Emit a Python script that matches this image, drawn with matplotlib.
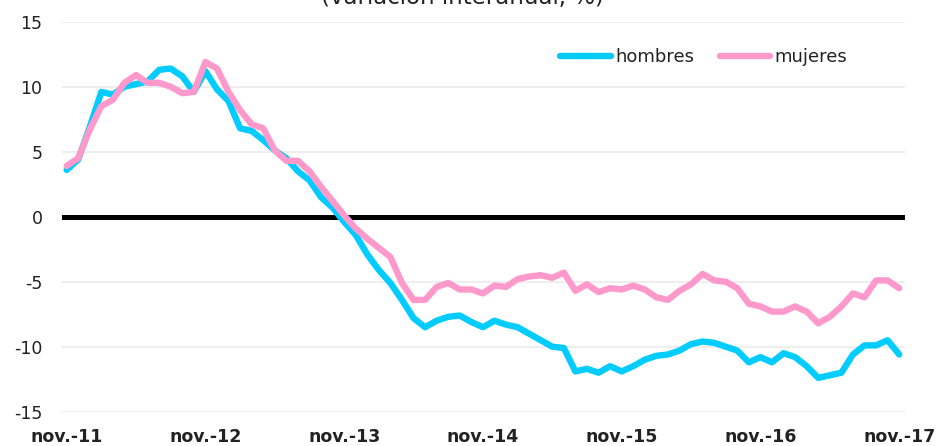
import numpy as np
import matplotlib
matplotlib.use("Agg")
import matplotlib.pyplot as plt

plt.rcParams["axes.unicode_minus"] = False

# Datos mensuales nov.-11 .. nov.-17 (variación interanual, %)
meses = np.arange(73)
etiquetas_x = ["nov.-11", "nov.-12", "nov.-13", "nov.-14", "nov.-15", "nov.-16", "nov.-17"]
pos_etiquetas = [0, 12, 24, 36, 48, 60, 72]

hombres = [
    3.6, 4.4, 6.9, 9.6, 9.4, 10.0, 10.2, 10.4, 11.3, 11.4, 10.8, 9.6,
    11.2, 9.8, 8.9, 6.8, 6.6, 5.9, 5.1, 4.5, 3.5, 2.8, 1.5, 0.7,
    -0.4, -1.4, -2.9, -4.1, -5.1, -6.4, -7.8, -8.5, -8.0, -7.7, -7.6, -8.1,
    -8.5, -8.0, -8.3, -8.5, -9.0, -9.5, -10.0, -10.1, -11.9, -11.7, -12.0, -11.5,
    -11.9, -11.5, -11.0, -10.7, -10.6, -10.3, -9.8, -9.6, -9.7, -10.0, -10.3, -11.2,
    -10.8, -11.2, -10.5, -10.8, -11.5, -12.4, -12.2, -12.0, -10.6, -9.9, -9.9, -9.5,
    -10.6,
]
mujeres = [
    3.9, 4.5, 6.7, 8.5, 9.0, 10.3, 10.9, 10.3, 10.3, 10.0, 9.5, 9.6,
    11.9, 11.4, 9.6, 8.2, 7.1, 6.8, 5.1, 4.3, 4.3, 3.5, 2.3, 1.2,
    0.1, -0.9, -1.7, -2.4, -3.1, -5.1, -6.4, -6.4, -5.4, -5.1, -5.6, -5.6,
    -5.9, -5.3, -5.4, -4.8, -4.6, -4.5, -4.7, -4.3, -5.7, -5.2, -5.8, -5.5,
    -5.6, -5.3, -5.6, -6.2, -6.4, -5.7, -5.2, -4.4, -4.9, -5.0, -5.5, -6.7,
    -6.9, -7.3, -7.3, -6.9, -7.3, -8.2, -7.7, -6.9, -5.9, -6.2, -4.9, -4.9,
    -5.5,
]

color_h = "#00CCFF"
color_m = "#FF99CC"
texto = "#222222"

fig = plt.figure(figsize=(9.41, 4.46), dpi=100)
ax = fig.add_axes([0.0659, 0.0769, 0.8958, 0.8744])

ax.axhline(0, color="black", linewidth=3.6, zorder=2)
ax.plot(meses, hombres, color=color_h, linewidth=4.6, label="hombres",
        solid_joinstyle="round", solid_capstyle="round", zorder=3)
ax.plot(meses, mujeres, color=color_m, linewidth=4.6, label="mujeres",
        solid_joinstyle="round", solid_capstyle="round", zorder=4)

ax.set_xlim(-0.4, 72.5)
ax.set_ylim(-15, 15)
ax.set_yticks([-15, -10, -5, 0, 5, 10, 15])
ax.set_xticks(pos_etiquetas)
ax.set_xticklabels(etiquetas_x, fontsize=12.5, fontweight="bold", color=texto)
ax.tick_params(axis="x", length=0, pad=12)
ax.tick_params(axis="y", length=0, pad=14, labelsize=12.5, labelcolor=texto)
ax.grid(axis="y", color="#ebebeb", linewidth=1.2)
ax.set_axisbelow(True)
for s in ax.spines.values():
    s.set_visible(False)

ax.legend(loc="center", bbox_to_anchor=(0.748, 0.872), bbox_transform=fig.transFigure,
          ncol=2, frameon=False, fontsize=13, handlelength=2.8, handletextpad=0.25,
          columnspacing=1.4, labelcolor=texto)

# título recortado por arriba, como en el original
fig.text(0.491, 0.990, "(variación interanual, %)", ha="center", va="baseline",
         fontsize=16.5, color=texto)

fig.savefig("out.png", dpi=100)
